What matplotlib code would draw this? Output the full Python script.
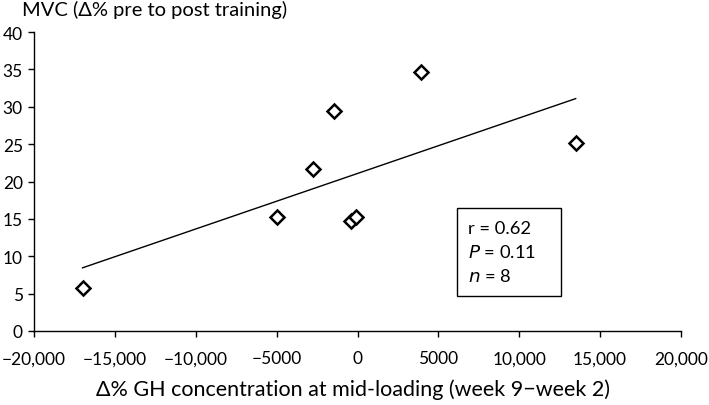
import matplotlib
matplotlib.use("Agg")
import matplotlib.pyplot as plt
import numpy as np

plt.rcParams['font.family'] = ['Lato', 'DejaVu Sans']

# change in GH concentration (%), change in MVC (%)
gh_change = np.array([-17000, -5000, -2750, -1450, -400, -100, 3930, 13490])
mvc_change = np.array([5.7, 15.3, 21.7, 29.4, 14.7, 15.2, 34.6, 25.1])

x_ticks = np.arange(-20000, 20001, 5000)
x_labels = ['\u221220,000', '\u221215,000', '\u221210,000', '\u22125000', '0',
            '5000', '10,000', '15,000', '20,000']
y_ticks = np.arange(0, 41, 5)

fig = plt.figure(figsize=(7.09, 4.06), dpi=100)
ax = fig.add_axes([34 / 709, 1 - 332 / 406, 647 / 709, 299 / 406])

# regression line over data range
slope, icpt = np.polyfit(gh_change, mvc_change, 1)
xl = np.array([gh_change.min(), gh_change.max()])
ax.plot(xl, slope * xl + icpt, color='black', lw=1)

ax.plot(gh_change, mvc_change, 'D', ms=7, mfc='white', mec='black', mew=1.8,
        linestyle='none')

ax.set_xlim(-20000, 20000)
ax.set_ylim(0, 40)
ax.set_xticks(x_ticks)
ax.set_xticklabels(x_labels)
ax.set_yticks(y_ticks)
ax.tick_params(direction='out', length=4, width=1, labelsize=12.5)
ax.tick_params(axis='x', pad=10)
ax.tick_params(axis='y', pad=4)
for s in ['top', 'right']:
    ax.spines[s].set_visible(False)
for s in ['left', 'bottom']:
    ax.spines[s].set_linewidth(1)

fig.text(22 / 709, 1 - 10 / 406, 'MVC (\u0394% pre to post training)',
         fontsize=14.5, va='center', ha='left')
fig.text(353 / 709, 1 - 390 / 406,
         '\u0394% GH concentration at mid-loading (week 9\u2212week 2)',
         fontsize=15.5, va='center', ha='center')

# stats box
box = plt.Rectangle((457 / 709, 1 - 297 / 406), 104 / 709, 88 / 406,
                    transform=fig.transFigure, fill=False, ec='black', lw=1)
fig.patches.append(box)
fig.text(468 / 709, 1 - 229 / 406, 'r = 0.62', fontsize=13.2, va='center')
fig.text(468 / 709, 1 - 253 / 406, r'$\it{P}$ = 0.11', fontsize=13.2, va='center')
fig.text(468 / 709, 1 - 277 / 406, r'$\it{n}$ = 8', fontsize=13.2, va='center')

fig.savefig('out.png', dpi=100)
